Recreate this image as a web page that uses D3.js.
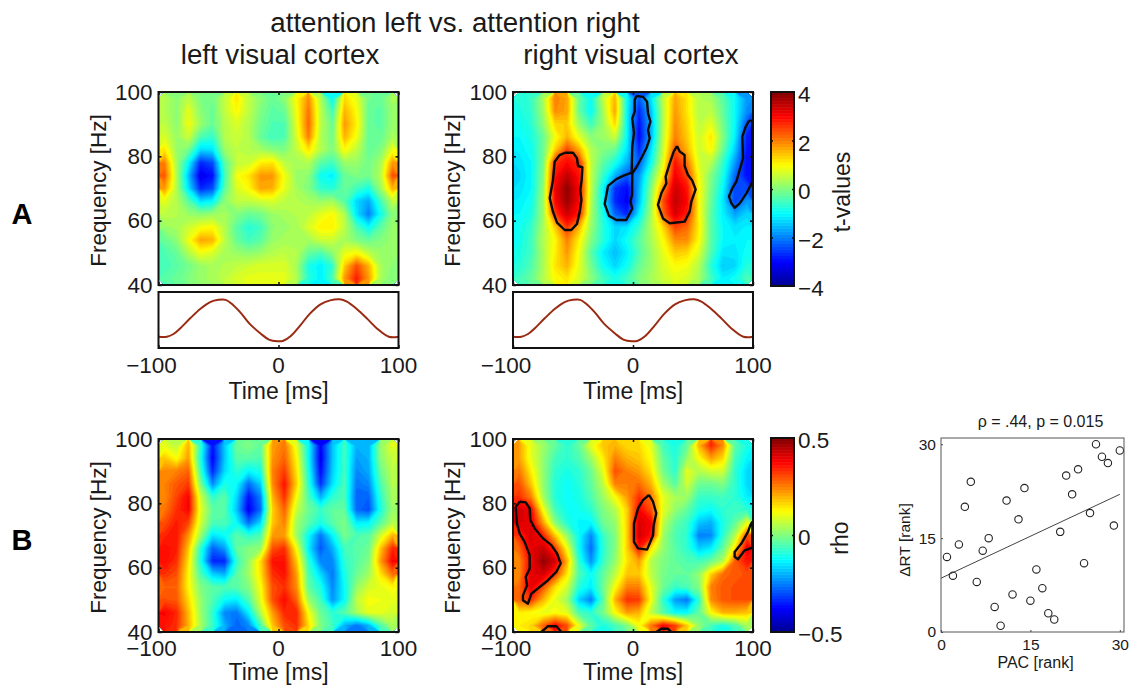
<!DOCTYPE html>
<html>
<head>
<meta charset="utf-8">
<script src="https://cdn.jsdelivr.net/npm/d3@7"></script>
<style>
  body { margin: 0; background: #fff; }
  svg { display: block; }
  text { font-family: "Liberation Sans", Arial, sans-serif; fill: #1a1a1a; }
</style>
</head>
<body>
<svg id="chart" width="1131" height="686"></svg>
<script>
// rows run from 98 Hz down to 42 Hz in 4 Hz steps, columns from -95 ms to 95 ms in 10 ms steps
const tLeft = [
  [.4,.1,.5,.0,-.1,.5,1.2,.5,.1,-.2,.1,1.0,1.9,.4,-1.0,1.3,.8,-.1,-.2,.3],
  [.4,.1,.8,.1,-.2,.5,1.0,.5,0,-.3,-.2,.9,2.1,.5,-.5,1.6,1.0,-.2,-.3,.2],
  [.5,.1,.9,.2,-.2,.4,.7,.4,-.1,-.4,-.4,.8,2.2,.5,-.2,1.8,1.1,-.2,-.3,.2],
  [.7,.2,.6,-.4,-.6,.4,.6,.4,-.2,-.5,-.4,.7,2.0,.4,-.1,1.6,.9,-.2,-.2,.3],
  [1.2,.2,-.1,-1.3,-1.2,.2,.5,.4,.3,.1,0,.5,1.2,.4,0,1.0,.5,-.2,0,.9],
  [2.0,.3,-1.0,-2.7,-2.4,-.3,.5,.6,1.1,1.2,.5,.3,.4,-.3,-.5,.2,.2,-.1,.3,1.8],
  [2.3,.4,-1.5,-3.2,-2.9,-.5,.9,1.2,1.8,1.8,.9,.2,.1,-.9,-1.1,-.2,0,-.1,.4,2.4],
  [1.8,.4,-1.2,-2.7,-2.4,-.3,.7,1.0,1.7,1.6,.8,.3,0,-.6,-.7,-.2,-.5,-.8,.2,1.6],
  [.8,.4,-.3,-1.2,-1.0,.1,.5,.5,.6,.7,.5,.4,.3,.2,.3,-.3,-1.3,-1.7,-.5,.5],
  [.5,.4,.2,.1,.2,.3,0,-.2,-.1,.2,.3,.4,.5,.8,1.0,.4,-1.2,-2.0,-.9,.1],
  [.2,.3,.6,.9,1.0,.4,-.3,-.7,-.5,.1,.2,.3,.7,1.1,1.1,.5,-.4,-1.0,-.3,.2],
  [-.2,.1,.9,1.7,1.6,.5,-.2,-.5,-.3,.2,.3,.3,.3,.6,.6,.3,0,-.2,0,.2],
  [-.4,-.2,.4,.9,.7,.3,.2,.1,.2,.4,.5,.4,-.2,-.4,.1,.8,1.0,.5,.2,.2],
  [-.5,-.3,-.1,.2,.3,.4,.5,.6,.7,.7,.7,.3,-.8,-1.1,-.6,1.4,2.4,1.6,.3,.1],
  [-.3,-.2,0,.2,.3,.5,.7,.8,.8,.8,.8,.4,-.7,-1.1,-.4,1.8,2.8,1.8,.3,0]
];
const tRight = [
  [-.7,-.6,.3,2.0,1.7,-.2,-.9,.5,1.6,-1.0,-2.3,-1.2,.5,1.7,1.2,.4,.3,-.3,-1,-1.8],
  [-.8,-.6,.2,1.9,1.7,-.2,-1.0,.3,1.7,-1.0,-2.7,-1.5,.4,1.8,1.2,.4,.5,-.2,-1,-1.9],
  [-.9,-.7,.1,1.3,1.4,.2,-.5,.2,1.3,-1.0,-2.9,-1.6,.4,1.9,1.3,.5,.8,-.1,-1,-2.4],
  [-1,-.8,-.2,.9,1.6,.8,.1,.2,.6,-1.0,-3.0,-1.6,.5,2.0,1.4,.6,1.2,0,-1.1,-2.8],
  [-1.1,-.9,-.2,1.4,2.5,1.7,.4,0,-.2,-1.2,-2.7,-1.2,.6,2.4,1.6,.6,1.0,-.2,-1.4,-2.9],
  [-1.2,-1.0,-.1,2.6,3.0,2.7,.5,-.3,-.8,-1.6,-2.3,-.9,.8,2.9,2.1,.7,.4,-.6,-1.8,-3.0],
  [-1.3,-1.0,0,2.9,3.5,2.9,.5,-.6,-1.6,-2.3,-1.8,-.3,1.2,3.1,2.5,.9,0,-.8,-2.2,-2.9],
  [-1.2,-1.0,.1,3.1,3.9,3.0,.5,-1.0,-2.6,-3.0,-1.6,0,1.9,3.4,2.9,1.0,-.1,-1,-2.5,-2.4],
  [-1.1,-.9,.2,3.0,3.8,3.0,.4,-1.0,-2.7,-3.1,-1.5,.2,2.4,3.5,3.0,1.0,-.2,-1.2,-2.5,-1.8],
  [-1,-.8,.2,2.5,3.4,2.8,.3,-.8,-2.2,-2.7,-1.1,.3,2.2,3.3,2.8,1.0,-.3,-1.1,-1.7,-1.3],
  [-.9,-.6,.3,1.4,2.6,1.6,.2,-.7,-1.3,-1.2,-.6,.4,1.3,2.5,2.2,1.1,-.3,-1.0,-1.2,-1.1],
  [-.9,-.5,.4,1.0,2.0,1.1,0,-.7,-1.3,-.9,-.3,.3,1.0,1.9,1.9,1.0,-.3,-1.0,-1.1,-1.0],
  [-.8,-.5,.3,1.1,1.8,.9,-.3,-1.1,-1.5,-1.1,-.4,.2,.8,1.4,1.3,.7,-.4,-1.2,-1.2,-.9],
  [-.7,-.4,.3,1.2,1.6,.8,-.1,-.9,-1.3,-.9,-.2,.2,.7,1.0,.9,.4,-.7,-1.4,-1.3,-.7],
  [-.5,-.2,.4,1.0,1.2,.7,.1,-.5,-.8,-.5,0,.3,.6,.8,.7,.3,-.5,-1.1,-.9,-.4]
];
const rhoLeft = [
  [.10,.06,.20,-.08,-.36,-.18,-.02,.00,-.03,.22,.26,.10,-.12,-.38,-.18,-.06,-.20,-.20,.02,.10],
  [.18,.12,.22,-.10,-.38,-.18,-.04,-.04,-.05,.23,.28,.13,-.12,-.39,-.18,-.06,-.22,-.20,.01,.07],
  [.24,.25,.28,-.06,-.34,-.16,-.08,-.13,-.10,.25,.32,.15,-.10,-.37,-.17,-.06,-.24,-.21,-.02,.06],
  [.25,.29,.32,.00,-.24,-.10,-.12,-.27,-.17,.24,.36,.17,-.08,-.33,-.15,-.05,-.26,-.24,-.05,.05],
  [.24,.31,.38,.08,-.08,-.04,-.16,-.36,-.25,.20,.33,.12,-.05,-.20,-.08,-.05,-.28,-.28,-.08,.04],
  [.26,.33,.38,.10,-.03,-.04,-.18,-.39,-.27,.17,.28,.07,-.02,-.07,-.03,-.03,-.27,-.30,-.10,.03],
  [.30,.35,.31,.08,-.05,-.05,-.12,-.27,-.16,.18,.25,.03,-.04,-.10,-.04,.00,-.14,-.13,-.04,.05],
  [.34,.36,.23,.03,-.15,-.12,-.04,-.08,-.05,.22,.22,.03,-.12,-.26,-.13,-.01,-.05,-.04,.08,.20],
  [.37,.35,.18,-.08,-.28,-.22,-.03,.00,.02,.30,.33,.12,-.14,-.29,-.20,-.06,-.04,-.02,.18,.34],
  [.37,.33,.15,-.10,-.34,-.34,-.08,.02,.16,.36,.36,.18,-.08,-.24,-.24,-.08,-.04,.00,.22,.38],
  [.33,.30,.13,-.05,-.17,-.20,-.04,.03,.15,.33,.36,.22,-.05,-.16,-.26,-.10,-.02,.03,.15,.27],
  [.28,.28,.13,.00,-.04,-.05,-.04,.00,.12,.30,.33,.24,-.03,-.10,-.24,-.12,.02,.08,.10,.13],
  [.30,.29,.16,.02,-.05,-.12,-.14,-.05,.10,.30,.37,.28,.03,-.06,-.23,-.12,.06,.12,.11,.10],
  [.38,.34,.19,.03,-.08,-.24,-.26,-.14,.05,.22,.34,.34,.12,-.02,-.08,-.04,.04,.10,.10,.08],
  [.36,.33,.20,.04,-.07,-.20,-.28,-.24,-.06,.18,.30,.33,.16,.00,-.06,-.20,-.26,-.20,-.05,.04]
];
const rhoRight = [
  [.22,.10,.03,-.03,-.08,-.03,.10,.18,.20,.16,.16,.10,-.06,-.10,-.03,.20,.34,.24,-.04,-.10],
  [.22,.10,.02,-.06,-.08,-.05,.03,.14,.25,.20,.18,.12,-.03,-.09,.02,.12,.22,.16,-.06,-.13],
  [.26,.14,.02,-.08,-.10,-.08,-.02,.10,.30,.25,.22,.15,-.01,-.08,.10,.05,.08,.08,-.08,-.16],
  [.30,.18,.02,-.09,-.12,-.09,-.03,.06,.25,.25,.27,.20,.04,-.04,.08,-.02,-.02,.00,-.08,-.16],
  [.33,.25,.04,-.09,-.12,-.10,-.05,.03,.12,.22,.33,.26,.10,.04,.03,-.07,-.07,-.06,-.08,-.14],
  [.42,.38,.12,-.06,-.11,-.11,-.08,.00,.05,.17,.38,.30,.10,.02,-.03,-.10,-.12,-.08,-.07,-.08],
  [.41,.40,.22,.01,-.09,-.13,-.13,-.02,.02,.17,.41,.38,.06,-.03,-.07,-.18,-.20,-.10,-.03,.10],
  [.33,.42,.35,.18,.02,-.12,-.24,-.07,.00,.17,.42,.36,.03,-.05,-.08,-.25,-.24,-.08,.05,.30],
  [.28,.40,.43,.32,.12,-.12,-.27,-.08,.00,.17,.35,.15,.02,-.04,-.08,-.17,-.14,-.03,.15,.40],
  [.24,.38,.48,.42,.20,-.08,-.23,-.07,.02,.15,.22,.05,.00,-.03,-.05,-.06,-.02,.05,.29,.36],
  [.24,.40,.42,.32,.15,-.05,-.12,-.03,.06,.18,.18,.06,-.01,-.03,-.03,.02,.17,.27,.29,.30],
  [.27,.40,.30,.16,.08,-.09,-.14,-.02,.12,.25,.25,.10,-.02,-.07,-.05,.00,.25,.29,.30,.30],
  [.28,.33,.20,.10,.03,-.17,-.25,-.04,.20,.33,.32,.12,-.08,-.22,-.26,-.08,.24,.29,.30,.30],
  [.14,.12,.10,.12,.10,-.05,-.08,-.01,.12,.22,.20,.06,-.04,-.12,-.12,-.03,.12,.20,.20,.18],
  [.14,.16,.28,.38,.30,.10,-.04,-.10,-.06,.00,.12,.26,.38,.32,.18,.02,-.06,-.10,-.05,.04]
];

// significance outlines as [time ms, frequency Hz]
const outlinesTRight = [
  [[-56.9,81.1],[-50,81.1],[-46.7,79.4],[-45.8,77],[-42.2,76.6],[-42.8,72.6],[-43.9,69.5],[-43,66.4],[-44.4,62.8],[-46.7,59],[-51.4,57.1],[-56.9,57.1],[-63.3,59.4],[-66.7,62.8],[-69.4,67],[-66.7,72.6],[-65.3,78.3],[-61.1,80.4],[-56.9,81.1]],
  [[2.8,98.8],[8.3,98.5],[11.7,97],[12.5,93.4],[14.5,90.8],[12.5,88.2],[13.9,85.6],[11.1,82.5],[6.9,79.4],[2.8,76.6],[-.6,74.7],[-.8,68],[-2.2,65.9],[-.6,63.8],[-5.6,60.2],[-13.9,60.2],[-20,61.5],[-23.6,65.2],[-20.8,70.8],[-13.9,72.9],[-7.8,74],[-1.1,74.9],[-.6,83],[.8,87.2],[-.6,91.8],[1.4,93.9],[1.4,97.5],[2.8,98.8]],
  [[36.7,83.2],[38.9,81.5],[43,80.4],[43,77],[45.8,74.2],[49.2,72.6],[52.2,69.7],[48.6,65.9],[47.2,62.8],[43,59.7],[30.6,59.2],[25,60.7],[20.8,64.9],[23.6,68.5],[27.8,71.6],[27.2,73.7],[30.6,77.8],[33.9,81.5],[36.7,83.2]],
  [[96.7,91.1],[99.5,91.1],[99.5,72.1],[94.5,68.5],[88.9,65.4],[84.7,64],[82,65.4],[80,67.5],[82.8,70.1],[86.1,72.1],[88.9,75.8],[91.7,79.4],[91.1,86.1],[93.9,89.2],[96.7,91.1]]
];
const outlinesRhoRight = [
  [[-94.4,80.5],[-89.4,80.3],[-86.1,78.4],[-85.6,74.8],[-81.9,72.2],[-75,69.1],[-68.1,67],[-63.3,64.4],[-60.3,61.3],[-63.9,58.7],[-70.8,56.1],[-77.8,54],[-84.7,51.9],[-87.5,48.8],[-91.7,49.9],[-91.7,51.4],[-88.3,54.5],[-89.4,57.1],[-86.1,59.7],[-86.1,63.9],[-90.3,68],[-94.4,70.6],[-96.7,73.7],[-97.8,78.9],[-94.4,80.5]],
  [[13.3,82.6],[16.7,80.5],[19.4,76.9],[17.2,73.2],[16.7,70.1],[11.7,65.6],[4.2,66],[.8,68],[.8,73.7],[4.2,78.4],[8.3,81],[13.3,82.6]],
  [[99.5,74.3],[99.5,66.2],[93.1,65.4],[87.5,62.6],[84.7,63.4],[84.7,64.9],[90.3,67.5],[95.8,71.1],[97.8,73.2],[99.5,74.3]],
  [[-76.4,40],[-70.8,41.8],[-63.9,41.8],[-59.7,40]],
  [[19.4,40],[23.6,41],[29.2,41],[32,40]]
];

// gamma phase trace under the top row
const waveTime = [-100,-93,-87.5,-82,-73.6,-65,-57,-50,-44,-39,-32,-24,-15,-8,-1,4,10,18,26,35,43,51,57,65,74,82,92,100];
const waveValue = [.2,.2,.25,.35,.53,.7,.82,.86,.86,.79,.64,.43,.26,.15,.12,.13,.21,.4,.61,.78,.85,.87,.83,.7,.52,.35,.2,.2];

// scatter, x rank is the index + 1
const deltaRtRank = [12,9,14,20,24,8,13,15,4,1,21,6,18,23,5,10,7,3,2,16,25,22,26,11,19,30,28,27,17,29];
const fitLine = [[0,8.6],[30,22]];

const timeTicks = [-100,0,100];
const freqTicks = [40,60,80,100];
const tBarTicks = [-4,-2,0,2,4];
const rhoBarTicks = [-.5,0,.5];
const rankTicks = [0,15,30];

const svg = d3.select('#chart');
const fmtNum = d => String(d).replace('-', '\u2212').replace(/^(\u2212?)\./, '$10.');

const defs = svg.append('defs');
defs.append('filter').attr('id', 'soft')
  .attr('x', 0).attr('y', 0).attr('width', 1).attr('height', 1)
  .append('feGaussianBlur').attr('stdDeviation', 0.7);

function jet(v, lim) {
  const scale = d3.scaleLinear()
    .domain([-1, -.75, -.25, .25, .75, 1].map(s => s * lim))
    .range(['#00008f', '#0000ff', '#00ffff', '#ffff00', '#ff0000', '#800000'])
    .clamp(true);
  return scale(v);
}

function frame(g, w, h, sw) {
  g.append('rect').attr('width', w).attr('height', h)
    .attr('fill', 'none').attr('stroke', '#111').attr('stroke-width', sw);
}

function styleAxis(g, size) {
  g.select('.domain').remove();
  g.selectAll('line').attr('stroke', '#111').attr('stroke-width', 1.5);
  g.selectAll('text').style('font-size', size + 'px');
}

function heatmap(opts) {
  const { left, top, width, height, values, lim, outlines, clipId, showWaveAxis } = opts;
  const g = svg.append('g').attr('transform', `translate(${left},${top})`);
  const x = d3.scaleLinear().domain([-100, 100]).range([0, width]);
  const y = d3.scaleLinear().domain([40, 100]).range([height, 0]);
  const rows = values.length, cols = values[0].length;

  const gridX = d3.scaleLinear().domain([0, cols]).range([-100, 100]);
  const gridY = d3.scaleLinear().domain([0, rows]).range([100, 40]);
  const project = d3.geoPath(d3.geoTransform({
    point(px, py) { this.stream.point(x(gridX(px)), y(gridY(py))); }
  }));

  defs.append('clipPath').attr('id', clipId)
    .append('rect').attr('width', width).attr('height', height);

  // 64 colour levels like the matlab colormap
  const step = 2 * lim / 64;
  const levels = d3.range(64).map(i => -lim + i * step);
  levels[0] = -lim * 3;
  const contours = d3.contours().size([cols, rows]).thresholds(levels)(values.flat());

  g.append('g').attr('clip-path', `url(#${clipId})`)
    .append('g').attr('filter', 'url(#soft)')
    .selectAll('path').data(contours).join('path')
    .attr('d', project)
    .attr('fill', (d, i) => jet(-lim + (i + .5) * step, lim));

  if (outlines) {
    const line = d3.line().x(d => x(d[0])).y(d => y(d[1]));
    g.append('g').selectAll('path').data(outlines).join('path')
      .attr('d', line).attr('fill', 'none')
      .attr('stroke', '#0a0a0a').attr('stroke-width', 2.4).attr('stroke-linejoin', 'round');
  }

  const yAxis = g.append('g').call(d3.axisLeft(y).tickValues(freqTicks).tickSize(-3).tickPadding(6));
  styleAxis(yAxis, 22.5);
  const yRight = g.append('g').attr('transform', `translate(${width},0)`)
    .call(d3.axisRight(y).tickValues(freqTicks).tickSize(-3).tickFormat(''));
  styleAxis(yRight, 22.5);
  const xBot = g.append('g').attr('transform', `translate(0,${height})`)
    .call(d3.axisBottom(x).tickValues(timeTicks).tickSize(-3).tickFormat(''));
  styleAxis(xBot, 22.5);
  const xTop = g.append('g').call(d3.axisTop(x).tickValues(timeTicks).tickSize(-3).tickFormat(''));
  styleAxis(xTop, 22.5);
  frame(g, width, height, 2);

  g.append('text')
    .attr('transform', `translate(${-53},${height / 2 + 2}) rotate(-90)`)
    .attr('text-anchor', 'middle').style('font-size', '22.5px').text('Frequency [Hz]');

  if (!showWaveAxis) timeLabels(g, x, height + 15.5, height + 40);
  return x;
}

function timeLabels(g, x, tickY, labelY) {
  g.selectAll('.tlabel').data(timeTicks).join('text')
    .attr('class', 'tlabel')
    .attr('x', d => x(d) + (d < 0 ? -7 : 0))
    .attr('y', tickY)
    .attr('dy', '.36em').attr('text-anchor', 'middle')
    .style('font-size', '22.5px').text(fmtNum);
  g.append('text').attr('x', x(0)).attr('y', labelY).attr('dy', '.36em')
    .attr('text-anchor', 'middle').style('font-size', '23px').text('Time [ms]');
}

function wavePanel(left, top, width, height) {
  const g = svg.append('g').attr('transform', `translate(${left},${top})`);
  const x = d3.scaleLinear().domain([-100, 100]).range([0, width]);
  const y = d3.scaleLinear().domain([0, 1]).range([height, 0]);
  const line = d3.line().x(d => x(d[0])).y(d => y(d[1])).curve(d3.curveCatmullRom);
  g.append('path').attr('d', line(d3.zip(waveTime, waveValue)))
    .attr('fill', 'none').attr('stroke', '#9a2a12').attr('stroke-width', 2);
  const xBot = g.append('g').attr('transform', `translate(0,${height})`)
    .call(d3.axisBottom(x).tickValues(timeTicks).tickSize(-3).tickFormat(''));
  styleAxis(xBot, 22.5);
  frame(g, width, height, 2);
  timeLabels(g, x, height + 17, height + 43);
}

function colorbar(left, top, width, height, lim, ticks, label, labelX) {
  const g = svg.append('g').attr('transform', `translate(${left},${top})`);
  const y = d3.scaleLinear().domain([-lim, lim]).range([height, 0]);
  const step = 2 * lim / 64;
  g.append('g').selectAll('rect').data(d3.range(64).map(i => -lim + i * step)).join('rect')
    .attr('x', 0).attr('width', width)
    .attr('y', d => y(d + step)).attr('height', d => y(d) - y(d + step) + .5)
    .attr('fill', d => jet(d + step / 2, lim));
  const inner = ticks.filter(d => Math.abs(d) < lim);
  const a = g.append('g').call(d3.axisLeft(y).tickValues(inner).tickSize(-2).tickFormat(''));
  styleAxis(a, 22.5);
  const b = g.append('g').attr('transform', `translate(${width},0)`)
    .call(d3.axisRight(y).tickValues(inner).tickSize(-2).tickFormat(''));
  styleAxis(b, 22.5);
  frame(g, width, height, 2);
  g.selectAll('.barlabel').data(ticks).join('text')
    .attr('class', 'barlabel')
    .attr('x', width + 4)
    .attr('y', d => y(d) + 2)
    .attr('dy', '.36em').style('font-size', '22.5px').text(fmtNum);
  g.append('text')
    .attr('transform', `translate(${labelX},${height / 2 + 3}) rotate(-90)`)
    .attr('text-anchor', 'middle').style('font-size', '23px').text(label);
}

function scatter(left, top, width, height) {
  const g = svg.append('g').attr('transform', `translate(${left},${top})`);
  const x = d3.scaleLinear().domain([0, 30.7]).range([0, width]);
  const y = d3.scaleLinear().domain([0, 31]).range([height, 0]);
  const pts = deltaRtRank.map((d, i) => [i + 1, d]);

  g.append('path').attr('d', d3.line().x(d => x(d[0])).y(d => y(d[1]))(fitLine))
    .attr('fill', 'none').attr('stroke', '#444').attr('stroke-width', 1);
  g.append('g').selectAll('circle').data(pts).join('circle')
    .attr('cx', d => x(d[0])).attr('cy', d => y(d[1])).attr('r', 3.7)
    .attr('fill', 'none').attr('stroke', '#222').attr('stroke-width', 1.1);

  const ax = g.append('g').attr('transform', `translate(0,${height})`)
    .call(d3.axisBottom(x).tickValues(rankTicks).tickSize(-2).tickPadding(7));
  styleAxis(ax, 15.5);
  const ay = g.append('g').call(d3.axisLeft(y).tickValues(rankTicks).tickSize(-2).tickPadding(5));
  styleAxis(ay, 15.5);
  g.selectAll('line').filter(function () { return this.parentNode.classList.contains('tick'); })
    .attr('stroke', '#444').attr('stroke-width', 1);
  g.append('rect').attr('width', width).attr('height', height)
    .attr('fill', 'none').attr('stroke', '#555').attr('stroke-width', 1);

  g.append('text').attr('x', width / 2 + 8).attr('y', -17).attr('dy', '.36em')
    .attr('text-anchor', 'middle').style('font-size', '16px').text('\u03c1 = .44, p = 0.015');
  g.append('text').attr('x', width / 2 + 3).attr('y', height + 30).attr('dy', '.36em')
    .attr('text-anchor', 'middle').style('font-size', '16px').text('PAC [rank]');
  g.append('text')
    .attr('transform', `translate(${-31},${height / 2 + 5}) rotate(-90)`)
    .attr('text-anchor', 'middle').style('font-size', '15.5px').text('\u0394RT [rank]');
}

// top row
heatmap({ left: 158.5, top: 92, width: 240, height: 193, values: tLeft, lim: 4, clipId: 'c1', showWaveAxis: true });
heatmap({ left: 513, top: 92, width: 240, height: 193, values: tRight, lim: 4, outlines: outlinesTRight, clipId: 'c2', showWaveAxis: true });
wavePanel(158.5, 292, 240, 56);
wavePanel(513, 292, 240, 56);
colorbar(771, 92, 23, 194, 4, tBarTicks, 't-values', 79);

// bottom row
heatmap({ left: 158.5, top: 439, width: 240, height: 193, values: rhoLeft, lim: .5, clipId: 'c3' });
heatmap({ left: 513, top: 439, width: 240, height: 193, values: rhoRight, lim: .5, outlines: outlinesRhoRight, clipId: 'c4' });
colorbar(771, 438, 23, 194, .5, rhoBarTicks, 'rho', 77);
scatter(941, 438, 183, 194);

// headings
const headings = [
  ['attention left vs. attention right', 455, 22, 27.7],
  ['left visual cortex', 280, 54, 27.7],
  ['right visual cortex', 631, 54, 27.7]
];
svg.selectAll('.heading').data(headings).join('text')
  .attr('class', 'heading')
  .attr('x', d => d[1]).attr('y', d => d[2]).attr('dy', '.36em')
  .attr('text-anchor', 'middle').style('font-size', d => d[3] + 'px').text(d => d[0]);

svg.selectAll('.rowlabel').data([['A', 22, 214], ['B', 22, 540]]).join('text')
  .attr('class', 'rowlabel')
  .attr('x', d => d[1]).attr('y', d => d[2]).attr('dy', '.36em')
  .attr('text-anchor', 'middle').style('font-size', '29px').style('font-weight', 'bold').style('fill', '#000')
  .text(d => d[0]);
</script>
</body>
</html>
